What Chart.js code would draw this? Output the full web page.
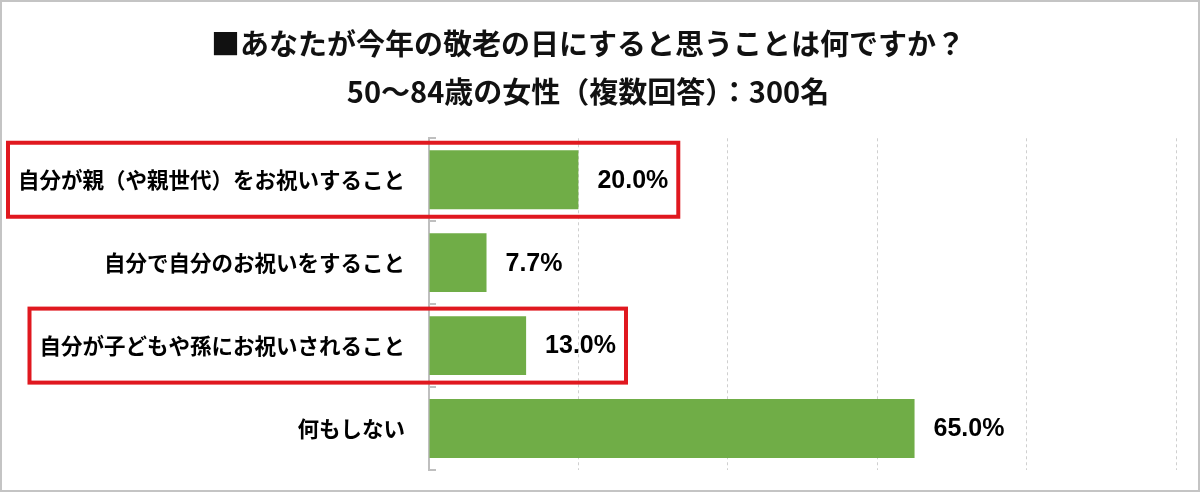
<!DOCTYPE html>
<html>
<head>
<meta charset="utf-8">
<script src="https://cdn.jsdelivr.net/npm/chart.js@4"></script>
<style>
  html, body { margin: 0; padding: 0; background: #fff; }
  #wrap { width: 1200px; height: 492px; }
</style>
</head>
<body>
<div id="wrap"><canvas id="chart" width="1200" height="492"></canvas></div>
<script>
// chart data
const titleLines = ['■あなたが今年の敬老の日にすると思うことは何ですか？', '50～84歳の女性（複数回答）：300名'];
const categories = [
  '自分が親（や親世代）をお祝いすること',
  '自分で自分のお祝いをすること',
  '自分が子どもや孫にお祝いされること',
  '何もしない'
];
const values = [20.0, 7.7, 13.0, 65.0];
const xTicks = [0, 20, 40, 60, 80, 100];
const highlighted = [0, 2]; // rows with red frame

const jpFont = '"Noto Sans CJK JP", "Noto Sans", sans-serif';
const numFont = '"Liberation Sans", Arial, sans-serif';
const labelFont = { family: jpFont, size: 21.5, weight: 'bold' };
const valueFont = { family: numFont, size: 25, weight: 'bold' };
const tickPad = 24;

// value labels to the right of each bar
const valueLabels = {
  id: 'valueLabels',
  afterDatasetsDraw(chart) {
    const ctx = chart.ctx;
    const meta = chart.getDatasetMeta(0);
    ctx.save();
    ctx.font = `${valueFont.weight} ${valueFont.size}px ${valueFont.family}`;
    ctx.fillStyle = '#000';
    ctx.textAlign = 'left';
    ctx.textBaseline = 'middle';
    meta.data.forEach((bar, i) => {
      ctx.fillText(values[i].toFixed(1) + '%', bar.x + 19, bar.y + 1);
    });
    ctx.restore();
  }
};

// red frames, inner tick marks and the outer border
const extras = {
  id: 'extras',
  afterDraw(chart) {
    const ctx = chart.ctx;
    const area = chart.chartArea;
    const yScale = chart.scales.y;
    const meta = chart.getDatasetMeta(0);
    const step = (area.bottom - area.top) / categories.length;
    ctx.save();

    // small tick marks on the category boundaries
    ctx.strokeStyle = '#bfbfbf';
    ctx.lineWidth = 2;
    for (let i = 0; i <= categories.length; i++) {
      const y = Math.round(area.top + i * step);
      ctx.beginPath();
      ctx.moveTo(area.left, y);
      ctx.lineTo(area.left + 7, y);
      ctx.stroke();
    }

    // red frames
    ctx.strokeStyle = '#e0181f';
    ctx.lineWidth = 4;
    highlighted.forEach(i => {
      const bar = meta.data[i];
      ctx.font = `${labelFont.weight} ${labelFont.size}px ${labelFont.family}`;
      const lw = ctx.measureText(categories[i]).width;
      ctx.font = `${valueFont.weight} ${valueFont.size}px ${valueFont.family}`;
      const vw = ctx.measureText(values[i].toFixed(1) + '%').width;
      const left = area.left - tickPad - lw - 10;
      const right = bar.x + 19 + vw + 10;
      const y = yScale.getPixelForValue(i);
      ctx.strokeRect(left, y - 37, right - left, 74);
    });

    // outer border
    ctx.strokeStyle = '#c4c4c4';
    ctx.lineWidth = 2;
    ctx.strokeRect(1, 1, chart.width - 2, chart.height - 2);
    ctx.restore();
  }
};

const ctx = document.getElementById('chart').getContext('2d');
new Chart(ctx, {
  type: 'bar',
  data: {
    labels: categories,
    datasets: [{
      data: values,
      backgroundColor: '#70ad47',
      borderWidth: 0,
      categoryPercentage: 1,
      barPercentage: 0.71
    }]
  },
  options: {
    indexAxis: 'y',
    responsive: false,
    animation: false,
    devicePixelRatio: 1,
    layout: { padding: { left: 0, right: 24, top: 0, bottom: 22 } },
    plugins: {
      legend: { display: false },
      tooltip: { enabled: false },
      title: {
        display: true,
        text: titleLines,
        color: '#111',
        font: { family: jpFont, size: 29, weight: 'bold', lineHeight: 1.66 },
        padding: { top: 20, bottom: 22 }
      }
    },
    scales: {
      x: {
        min: xTicks[0],
        max: xTicks[xTicks.length - 1],
        afterBuildTicks(scale) {
          scale.ticks = xTicks.map(v => ({ value: v }));
        },
        ticks: { display: false },
        grid: {
          drawTicks: false,
          color: c => (c.tick && c.tick.value === 0) ? 'rgba(0,0,0,0)' : '#cfcfcf',
          lineWidth: 1
        },
        border: { display: false, dash: [3, 3] }
      },
      y: {
        afterFit(scale) {
          scale.width = 429;
          // labels sit inside their category bands, no extra room needed
          scale.paddingTop = 0;
          scale.paddingBottom = 0;
        },
        ticks: {
          color: '#000',
          font: labelFont,
          padding: tickPad
        },
        grid: { drawOnChartArea: false, drawTicks: false },
        border: { display: true, color: '#bfbfbf', width: 2 }
      }
    }
  },
  plugins: [valueLabels, extras]
});
</script>
</body>
</html>
